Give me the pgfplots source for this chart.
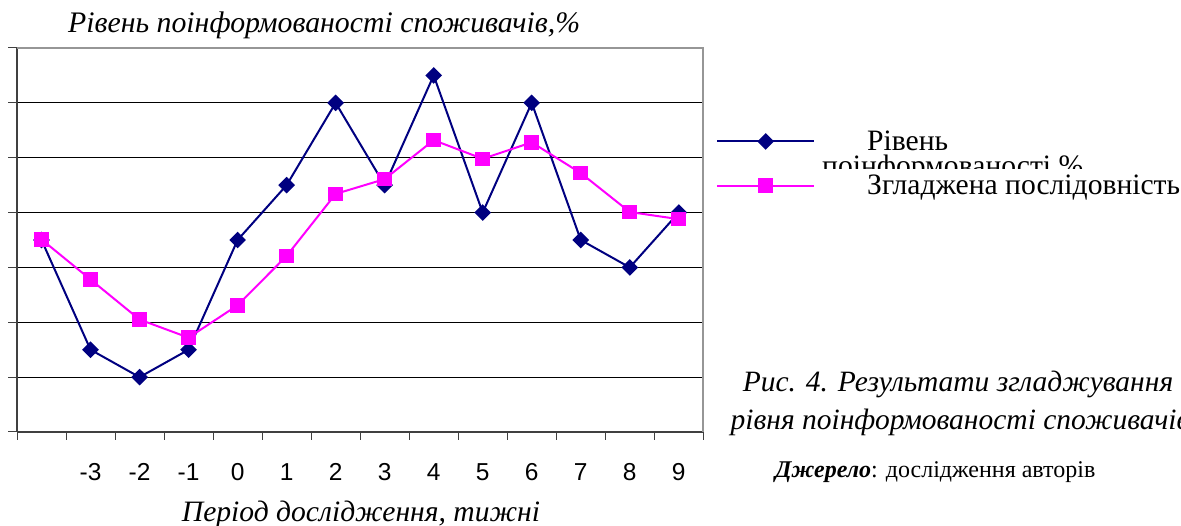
\documentclass[border=0pt]{standalone}
\usepackage{fontspec}
\setmainfont{Liberation Serif}
\newfontfamily\arial{Liberation Sans}
\usepackage{pgfplots}
\pgfplotsset{compat=1.18}
\definecolor{navyc}{RGB}{0,0,128}
\definecolor{magc}{RGB}{255,0,255}
\definecolor{axgray}{RGB}{64,64,64}
\definecolor{brdgray}{RGB}{150,150,150}
\begin{document}
\begin{tikzpicture}[x=1pt,y=1pt]
\useasboundingbox (0,0) rectangle (1181,525);
\begin{axis}[
  at={(17pt,93pt)}, anchor=south west,
  scale only axis, width=686.3pt, height=384pt,
  xmin=0.5, xmax=14.5, ymin=0, ymax=7,
  axis lines=left, axis line style={-, axgray, line width=1.6pt},
  xtick={1,...,14},
  xticklabels={{},-3,-2,-1,0,1,2,3,4,5,6,7,8,9},
  major x tick style={draw=none},
  minor xtick={0.5,1.5,...,14.5},
  minor tick length=8pt,
  major tick length=9pt,
  tick align=outside,
  tick style={axgray, line width=1pt},
  ytick={0,...,7}, yticklabels={},
  ymajorgrids, grid style={black, line width=1pt},
  xticklabel style={font=\arial\fontsize{24.5}{24}\selectfont, anchor=base, yshift=-39pt},
  clip=false,
  legend cell align=left,
  legend image code/.code={\draw[mark repeat=2,mark phase=2,#1] plot coordinates {(0pt,0pt)(48.5pt,0pt)(97pt,0pt)};},
  legend style={at={(1.0141,0.795)}, anchor=north west, draw=none, fill=none,
    font=\fontsize{29.6}{32}\selectfont, row sep=19pt, column sep=50pt,
    nodes={inner sep=2pt}},
]
\addplot[navyc, line width=2pt, mark=square*, mark size=4.9pt,
  mark options={solid, rotate=45, fill=navyc}] coordinates {
  (1,3.5) (2,1.5) (3,1.0) (4,1.5) (5,3.5) (6,4.5) (7,6.0)
  (8,4.5) (9,6.5) (10,4.0) (11,6.0) (12,3.5) (13,3.0) (14,4.0)};
\addlegendentry{Рівень}
\addplot[magc, line width=2pt, mark=square*, mark size=6.3pt,
  mark options={solid, fill=magc}] coordinates {
  (1,3.51) (2,2.78) (3,2.05) (4,1.72) (5,2.31) (6,3.21) (7,4.34)
  (8,4.61) (9,5.32) (10,4.98) (11,5.28) (12,4.72) (13,4.01) (14,3.88)};
\addlegendentry{Згладжена послідовність}
\draw[brdgray, line width=2pt] (rel axis cs:0,1) -- (rel axis cs:1,1) -- (rel axis cs:1,0);
\end{axis}
\node[anchor=base west, inner sep=0pt, font=\itshape\fontsize{29.8}{32}\selectfont] at (68,492) {Рівень поінформованості споживачів,\%};
\node[anchor=base west, inner sep=0pt, font=\itshape\fontsize{29.6}{32}\selectfont] at (181.7,4) {Період дослідження, тижні};
\begin{scope}
\clip (800,356) rectangle (1181,375);
\node[anchor=base west, inner sep=0pt, font=\fontsize{29.6}{32}\selectfont] at (822,349) {поінформованості,\%};
\end{scope}
\node[anchor=base, inner sep=0pt, font=\itshape\fontsize{29.5}{32}\selectfont] at (958,133) {Рис. 4. Результати згладжування};
\node[anchor=base, inner sep=0pt, font=\itshape\fontsize{29.5}{32}\selectfont] at (960,95) {рівня поінформованості споживачів};
\node[anchor=base west, inner sep=0pt, font=\fontsize{24}{26}\selectfont] at (775,47) {\textbf{\textit{Джерело}}: дослідження авторів};
\end{tikzpicture}
\end{document}
